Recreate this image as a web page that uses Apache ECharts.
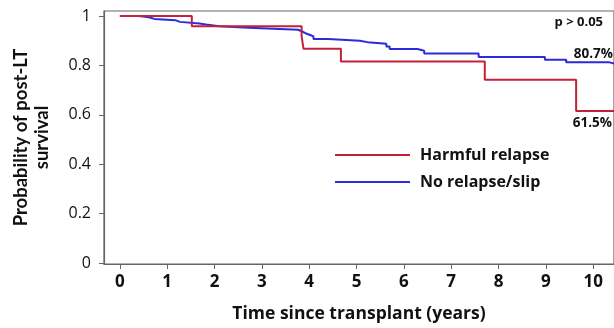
<!DOCTYPE html>
<html>
<head>
<meta charset="utf-8">
<script src="https://cdn.jsdelivr.net/npm/echarts@6/dist/echarts.min.js"></script>
<style>html,body{margin:0;padding:0;background:#fff;}#c{width:614px;height:328px;}</style>
</head>
<body>
<div id="c"></div>
<script>
// Kaplan-Meier step data: [time (years), survival probability]
var harmfulTimes  = [0, 1.52, 3.84, 3.88, 4.67, 7.71, 9.64, 10.44];
var harmfulValues = [1.0, 0.958, 0.917, 0.867, 0.816, 0.742, 0.615, 0.615];

var noRelapseTimes  = [0, 0.40, 0.61, 0.73, 1.17, 1.27, 1.68, 1.82, 2.10, 2.72, 3.77, 3.85, 3.92, 4.02, 4.09, 4.40, 5.07, 5.23, 5.63, 5.70, 6.29, 6.43, 7.58, 8.98, 9.43, 10.33, 10.44];
var noRelapseValues = [1.0, 0.995, 0.988, 0.983, 0.976, 0.969, 0.965, 0.958, 0.952, 0.944, 0.937, 0.930, 0.923, 0.917, 0.907, 0.900, 0.894, 0.887, 0.876, 0.866, 0.859, 0.848, 0.834, 0.823, 0.813, 0.807, 0.807];

var xTicks = [0, 1, 2, 3, 4, 5, 6, 7, 8, 9, 10];
var yTicks = [0, 0.2, 0.4, 0.6, 0.8, 1];
var seriesNames = ['Harmful relapse', 'No relapse/slip'];
var endLabels = ['61.5%', '80.7%'];
var pText = 'p > 0.05';

function pairs(t, v) { return t.map(function (x, i) { return [x, v[i]]; }); }

var FONT = '"Open Sans"';
var chart = echarts.init(document.getElementById('c'), null, {renderer: 'canvas'});
chart.setOption({
  backgroundColor: '#fff',
  animation: false,
  grid: {left: 104, right: -4, top: 11, bottom: 63, show: true, borderColor: '#666', borderWidth: 1.2, containLabel: false},
  xAxis: {
    type: 'value', min: -0.3354, max: 10.44,
    name: 'Time since transplant (years)', nameLocation: 'middle', nameGap: 41,
    nameTextStyle: {fontFamily: FONT, fontWeight: 'bold', fontSize: 17.5, color: '#111'},
    axisLine: {show: true, onZero: false, lineStyle: {color: '#666', width: 1.2}},
    axisTick: {show: true, length: 5, lineStyle: {color: '#666'}, customValues: xTicks},
    axisLabel: {fontFamily: FONT, fontWeight: 'bold', fontSize: 17, color: '#111', margin: 10, customValues: xTicks},
    splitLine: {show: false}
  },
  yAxis: {
    type: 'value', min: -0.004, max: 1.02,
    name: 'Probability of post-LT\nsurvival', nameLocation: 'middle', nameGap: 51, nameRotate: 90,
    nameTextStyle: {fontFamily: 'Lato', fontWeight: 'bold', fontSize: 18.5, color: '#111', lineHeight: 21, align: 'center'},
    axisLine: {show: true, onZero: false, lineStyle: {color: '#666', width: 1.2}},
    axisTick: {show: true, length: 5, lineStyle: {color: '#666'}, customValues: yTicks},
    axisLabel: {fontFamily: FONT, fontSize: 16, color: '#111', margin: 13, customValues: yTicks,
      formatter: function (v) { return String(Math.round(v * 10) / 10); }},
    splitLine: {show: false}
  },
  legend: {
    orient: 'vertical', left: 335, top: 145, padding: 0, itemWidth: 75, itemHeight: 2, itemGap: 7, icon: 'rect',
    textStyle: {fontFamily: FONT, fontWeight: 'bold', fontSize: 16, color: '#111', lineHeight: 20, padding: [0, 0, 0, 5]},
    data: seriesNames
  },
  series: [
    {name: seriesNames[1], type: 'line', step: 'end', symbol: 'none', clip: true,
     lineStyle: {color: '#2b2bd8', width: 2}, itemStyle: {color: '#2b2bd8'},
     data: pairs(noRelapseTimes, noRelapseValues), z: 2},
    {name: seriesNames[0], type: 'line', step: 'end', symbol: 'none', clip: true,
     lineStyle: {color: '#c4203a', width: 2}, itemStyle: {color: '#c4203a'},
     data: pairs(harmfulTimes, harmfulValues), z: 3}
  ],
  graphic: [
    {type: 'text', right: 11, top: 16, style: {text: pText, fontFamily: FONT, fontWeight: 'bold', fontSize: 13, fill: '#111'}},
    {type: 'text', right: 1, top: 47, style: {text: endLabels[1], fontFamily: FONT, fontWeight: 'bold', fontSize: 13.5, fill: '#111'}},
    {type: 'text', right: 2, top: 116, style: {text: endLabels[0], fontFamily: FONT, fontWeight: 'bold', fontSize: 13.5, fill: '#111'}}
  ]
});
</script>
</body>
</html>
